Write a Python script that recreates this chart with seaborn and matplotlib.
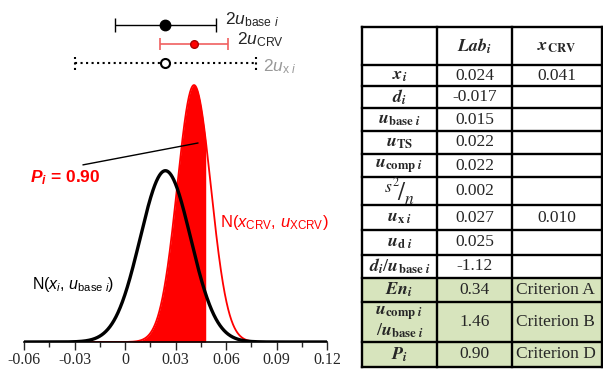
import numpy as np
import matplotlib
matplotlib.use("Agg")
import matplotlib.pyplot as plt
import seaborn as sns

sns.set_style("white")
plt.rcParams['font.family'] = ['Liberation Sans', 'DejaVu Sans']
plt.rcParams['mathtext.fontset'] = 'custom'
plt.rcParams['mathtext.rm'] = 'Liberation Sans'
plt.rcParams['mathtext.it'] = 'Liberation Sans:italic'
plt.rcParams['mathtext.bf'] = 'Liberation Sans:bold'
plt.rcParams['mathtext.bfit'] = 'Liberation Sans:italic:bold'

# values of the comparison
x_lab = 0.024
u_base = 0.015
x_crv = 0.041
u_crv = 0.010
u_x = 0.027
cut = 0.048   # right edge of the shaded P_i area

tick_vals = [-0.06, -0.03, 0, 0.03, 0.06, 0.09, 0.12]
tick_labels = ["-0.06", "-0.03", "0", "0.03", "0.06", "0.09", "0.12"]

row_labels = [
    r"$\mathbfit{x}_{\mathbfit{i}}$",
    r"$\mathbfit{d}_{\mathbfit{i}}$",
    r"$\mathbfit{u}_{\mathbf{base}\ \mathbfit{i}}$",
    r"$\mathbfit{u}_{\mathbf{TS}}$",
    r"$\mathbfit{u}_{\mathbf{comp}\ \mathbfit{i}}$",
    r"${}^{s^2}\!/_{n}$",
    r"$\mathbfit{u}_{\mathbf{x}\ \mathbfit{i}}$",
    r"$\mathbfit{u}_{\mathbf{d}\ \mathbfit{i}}$",
    r"$\mathbfit{d}_{\mathbfit{i}}/\mathbfit{u}_{\mathbf{base}\ \mathbfit{i}}$",
    r"$\mathbfit{En}_{\mathbfit{i}}$",
    r"$\mathbfit{u}_{\mathbf{comp}\ \mathbfit{i}}$" + "\n" + r"$/\mathbfit{u}_{\mathbf{base}\ \mathbfit{i}}$",
    r"$\mathbfit{P}_{\mathbfit{i}}$",
]
lab_vals = ["0.024", "-0.017", "0.015", "0.022", "0.022", "0.002",
            "0.027", "0.025", "-1.12", "0.34", "1.46", "0.90"]
crv_vals = ["0.041", "", "", "", "", "", "0.010", "", "",
            "Criterion A", "Criterion B", "Criterion D"]
headers = ["", r"$\mathbfit{Lab}_{\mathbfit{i}}$", r"$\mathbfit{x}_{\mathbf{CRV}}$"]
n_green = 3

fig = plt.figure(figsize=(6.03, 3.70), dpi=100)

# ---- left: the two distributions ----
ax = fig.add_axes([24/603, 1-342/370, 303/603, 342/370])
xs = np.linspace(-0.06, 0.12, 1500)
pdf_lab = np.exp(-0.5*((xs-x_lab)/u_base)**2)/(u_base*np.sqrt(2*np.pi))
pdf_crv = np.exp(-0.5*((xs-x_crv)/u_crv)**2)/(u_crv*np.sqrt(2*np.pi))

ax.fill_between(xs, 0, pdf_crv, where=xs <= cut, color='#ff0000', lw=0)
sns.lineplot(x=xs, y=pdf_crv, color='#ff0000', lw=1.3, ax=ax)
sns.lineplot(x=xs, y=pdf_lab, color='black', lw=2.4, ax=ax)

# uncertainty bars on top
ax.errorbar(x_lab, 49.2, xerr=2*u_base, fmt='o', color='black', ms=7.5,
            capsize=5, elinewidth=1, capthick=1)
ax.errorbar(x_crv, 46.3, xerr=2*u_crv, fmt='o', color='#ff0000', ecolor='#f06060',
            mec='#aa0000', ms=5.5, capsize=4, elinewidth=1.2, capthick=1.2)
ax.plot([x_lab-2*u_x, x_lab+2*u_x], [43.3, 43.3], ls=':', color='black', lw=1.5)
ax.vlines([x_lab-2*u_x, x_lab+2*u_x], 42.3, 44.3, ls=':', color='black', lw=1.5)
ax.plot(x_lab, 43.3, 'o', mfc='white', mec='black', mew=1.5, ms=6.5)

ax.text(0.0594, 50.0, r"$2u_{\mathrm{base}\ i}$", fontsize=12.5, va='center')
ax.text(0.0666, 46.9, r"$2u_{\mathrm{CRV}}$", fontsize=12.5, va='center')
ax.text(0.082, 42.8, r"$2u_{\mathrm{x}\ i}$", fontsize=12.5, va='center', color='#999999')

ax.text(0.0565, 18.6, r"N($x_{\mathrm{CRV}}$, $u_{\mathrm{XCRV}}$)", fontsize=12,
        va='center', color='#ff0000')
ax.text(-0.0553, 8.85, r"N($x_i$, $u_{\mathrm{base}\ i}$)", fontsize=11.5,
        va='center', color='black')
ax.text(-0.0564, 25.5, r"$\mathbfit{P}_{\mathbfit{i}}$ = 0.90", fontsize=12.5,
        va='center', color='#ff0000', fontweight='bold')
ax.plot([-0.025, 0.0434], [27.5, 30.9], color='black', lw=1)

ax.set_xlim(-0.06, 0.12)
ax.set_ylim(0, 53.1)
ax.set_xticks(tick_vals)
ax.set_xticklabels(tick_labels, family='Liberation Serif', fontsize=11.5)
ax.set_xticks(np.array(tick_vals[:-1]) + 0.015, minor=True)
ax.tick_params(axis='x', which='major', direction='out', length=6, width=1, pad=1,
               bottom=True)
ax.tick_params(axis='x', which='minor', direction='out', length=3.5, width=1,
               bottom=True)
ax.set_yticks([])
ax.set_xlabel('')
ax.set_ylabel('')
for s in ['left', 'right', 'top']:
    ax.spines[s].set_visible(False)
ax.spines['bottom'].set_color('black')
ax.spines['bottom'].set_linewidth(1.2)
ax.patch.set_alpha(0)

# ---- right: the table ----
tx = fig.add_axes([0, 0, 1, 1])
tx.set_xlim(0, 603)
tx.set_ylim(370, 0)
tx.axis('off')
tx.patch.set_alpha(0)

cols = [362, 437, 512, 602]
rows = [27, 65, 86, 108, 131, 154, 177, 205, 230, 255, 278, 302, 342, 367]

tx.fill_between([cols[0], cols[-1]], rows[-1-n_green], rows[-1], color='#d7e4bd', lw=0)
for c in cols:
    tx.plot([c, c], [rows[0], rows[-1]], color='black', lw=1.7, solid_capstyle='projecting')
for r in rows:
    tx.plot([cols[0], cols[-1]], [r, r], color='black', lw=1.7, solid_capstyle='projecting')

xc = [(cols[k]+cols[k+1])/2 for k in range(3)]
yc = [(rows[k]+rows[k+1])/2 for k in range(len(rows)-1)]

for k, h in enumerate(headers):
    tx.text(xc[k], yc[0], h, ha='center', va='center', fontsize=13, math_fontfamily='stix')
for j in range(len(row_labels)):
    y = yc[j+1]
    size = 18 if j == 5 else 13
    tx.text(xc[0], y, row_labels[j], ha='center', va='center', fontsize=size,
            math_fontfamily='stix', linespacing=1.0)
    tx.text(xc[1], y, lab_vals[j], ha='center', va='center', fontsize=12.5,
            family='Liberation Serif')
    v = crv_vals[j]
    if v.startswith('Criterion'):
        tx.text(cols[2]+4, y, v, ha='left', va='center', fontsize=12.5,
                family='Liberation Serif')
    else:
        tx.text(xc[2], y, v, ha='center', va='center', fontsize=12.5,
                family='Liberation Serif')

fig.savefig('out.png', dpi=100)
